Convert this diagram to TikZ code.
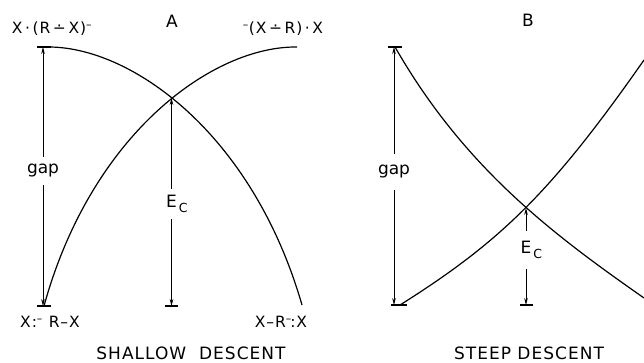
\documentclass[tikz,border=0pt]{standalone}
\usepackage{fontspec}
\setmainfont{DejaVu Sans}
\newfontfamily\lblfont[LetterSpace=6]{DejaVu Sans}
\usetikzlibrary{arrows.meta}
\newcommand\subC{\rlap{\raisebox{-4.5pt}{\fontsize{12.5}{12.5}\selectfont\,C}}}
\begin{document}
\begin{tikzpicture}[x=1pt,y=-1pt,
  curve/.style={line width=1.2pt},
  dim/.style={line width=0.8pt,-{Stealth[length=7pt,width=3.6pt]}},
  bar/.style={line width=1.2pt},
  lbl/.style={font=\lblfont\fontsize{15.5}{15.5}\selectfont, inner sep=0pt},
  ttl/.style={font=\lblfont\fontsize{17}{17}\selectfont, inner sep=0pt},
  cut/.style={font=\fontsize{17}{17}\selectfont, inner sep=0pt, minimum height=28pt}]
\useasboundingbox (0,0) rectangle (644,363);
% ---------------- Panel A ----------------
\node[ttl] (tA) at (172,21) {A};
\node[lbl] (l1) at (52,29) {X\,·\,(R\,∸\,X)\textsuperscript{–}};
\node[lbl] (l2) at (283,29) {\textsuperscript{–}(X\,∸\,R)\,·\,X};
\node[lbl] (l3) at (50,322) {X:\textsuperscript{–}\ R–X};
\node[lbl] (l4) at (281,322) {X–R\textsuperscript{–}\kern-0.1em:X};
\node[ttl] (sA) at (191,353) {SHALLOW\ \ DESCENT};
\coordinate (a1) at (47,47);
\coordinate (a2) at (302,305);
\coordinate (a3) at (44,306);
\coordinate (a4) at (297,47);
\coordinate (xA) at (171.5,98);
\draw[curve] (a1) .. controls (130,46) and (252,132) .. (a2);
\draw[curve] (a4) .. controls (214,46) and (92,132) .. (a3);
\draw[bar] (37,47) -- (51,47);
\draw[bar] (37,306) -- (51,306);
\draw[bar] (165,306) -- (178,306);
\coordinate (gAt) at (43,47);
\coordinate (gAb) at (43,306);
\node[cut] (gA) at (43,171) {gap};
\draw[dim] (gA) -- (gAt);
\draw[dim] (gA) -- (gAb);
\coordinate (eAb) at (171.5,306);
\node[cut, minimum height=30pt] (eA) at (171.5,204) {E\subC};
\draw[dim] (eA) -- (xA);
\draw[dim] (eA) -- (eAb);
% ---------------- Panel B ----------------
\node[ttl] (tB) at (528,20) {B};
\node[ttl] (sB) at (529,353) {STEEP DESCENT};
\coordinate (b1) at (395,47);
\coordinate (b2) at (644,298);
\coordinate (b3) at (400,305);
\coordinate (b4) at (644,60);
\coordinate (xB) at (526,208);
\draw[curve] (b1) .. controls (465,169) and (554,235) .. (b2);
\draw[curve] (b3) .. controls (500,242) and (551,193) .. (b4);
\draw[bar] (388,47) -- (402,47);
\draw[bar] (391,305) -- (407,305);
\draw[bar] (520,305) -- (533,305);
\coordinate (gBt) at (394,47);
\coordinate (gBb) at (394,305);
\node[cut, minimum height=36pt] (gB) at (394,172) {gap};
\draw[dim] (gB) -- (gBt);
\draw[dim] (gB) -- (gBb);
\coordinate (eBb) at (526,305);
\node[cut, minimum height=38pt] (eB) at (526,250) {E\subC};
\draw[dim] (eB) -- (xB);
\draw[dim] (eB) -- (eBb);
\end{tikzpicture}
\end{document}
